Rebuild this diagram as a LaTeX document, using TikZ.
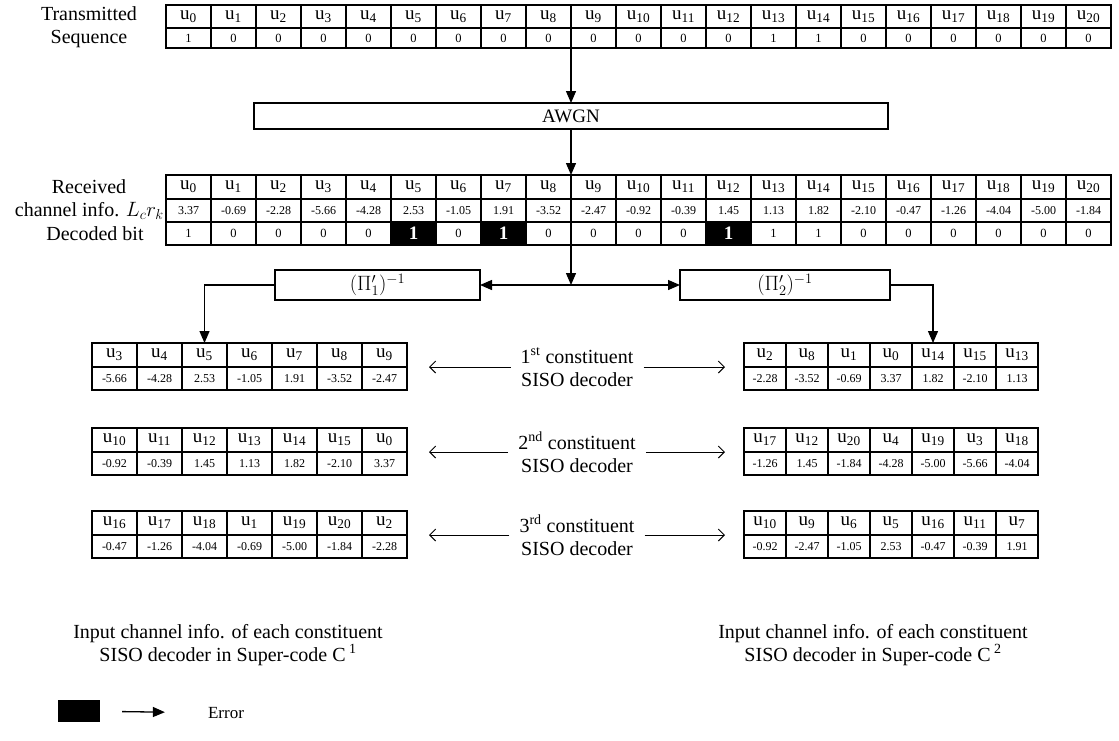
\documentclass[tikz,border=0pt]{standalone}
\usepackage{fontspec}
\setmainfont{Liberation Serif}
\usetikzlibrary{
    positioning,
    arrows.meta,
    calc
}

% one de-interleaved block: name, left x, top y, cell width, index/value list
\newcommand{\infotable}[5]{%
  \foreach \k/\v [count=\i from 0] in {#5}{
    \node[ucell, minimum width=#4] (#1-u-\i) at ({#2+#4*\i}, #3) {u\textsubscript{\k}};
    \node[vcell, minimum width=#4] (#1-v-\i) at (#1-u-\i.south west) {\v};
  }}

\begin{document}
\begin{tikzpicture}[
    x=1pt, y=-1pt,
    every node/.style={font=\fontsize{20}{23}\selectfont},
    ucell/.style={
        draw,
        line width=1.2pt,
        inner sep=0pt,
        outer sep=0pt,
        anchor=north west,
        minimum height=24,
        font=\fontsize{19}{20}\selectfont
    },
    vcell/.style={ucell, minimum height=23, font=\fontsize{12}{13}\selectfont},
    bitcell/.style={vcell, font=\fontsize{12.5}{13}\selectfont},
    errcell/.style={vcell, fill=black, text=white, font=\fontsize{19}{19}\selectfont\bfseries},
    block/.style={draw, line width=1.2pt, inner sep=0pt, outer sep=0pt},
    lbl/.style={align=center, inner sep=2pt},
    arrow/.style={line width=1.3pt, -{Triangle[length=12pt, width=10pt]}},
    sarrow/.style={line width=1pt, -{Straight Barb[length=6pt, width=12pt]}}
]

\useasboundingbox (0,0) rectangle (1119,740);

% ---------- Transmitted sequence ----------
\foreach \b [count=\i from 0] in {1,0,0,0,0,0,0,0,0,0,0,0,0,1,1,0,0,0,0,0,0}{
  \node[ucell, minimum width=45, minimum height=23] (tx-u-\i) at ({166+45*\i}, 5) {u\textsubscript{\i}};
  \node[bitcell, minimum width=45, minimum height=20] (tx-b-\i) at (tx-u-\i.south west) {\b};
}
\node[lbl] (txlabel) at (89, 27) {Transmitted\\Sequence};

% ---------- Channel ----------
\node[block, minimum width=634, minimum height=26, font=\fontsize{19}{20}\selectfont] (awgn) at (571, 116) {AWGN};
\draw[arrow] (tx-b-8.south east) -- (tx-b-8.south east |- awgn.north);

% ---------- Received channel info and decoded bits ----------
\foreach \l/\s/\d [count=\i from 0] in {3.37/bitcell/1, -0.69/bitcell/0, -2.28/bitcell/0,
    -5.66/bitcell/0, -4.28/bitcell/0, 2.53/errcell/1, -1.05/bitcell/0, 1.91/errcell/1,
    -3.52/bitcell/0, -2.47/bitcell/0, -0.92/bitcell/0, -0.39/bitcell/0, 1.45/errcell/1,
    1.13/bitcell/1, 1.82/bitcell/1, -2.10/bitcell/0, -0.47/bitcell/0, -1.26/bitcell/0,
    -4.04/bitcell/0, -5.00/bitcell/0, -1.84/bitcell/0}{
  \node[ucell, minimum width=45] (rx-u-\i) at ({166+45*\i}, 175) {u\textsubscript{\i}};
  \node[vcell, minimum width=45] (rx-l-\i) at (rx-u-\i.south west) {\l};
  \node[\s, minimum width=45] (rx-d-\i) at (rx-l-\i.south west) {\d};
}
\node[lbl] (rxlabel) at (89, 187) {Received};
\node[lbl, anchor=east] (chlabel) at (rx-l-0.west) {channel info. $L_c r_k$};
\node[lbl] (declabel) at (95, 233.5) {Decoded bit};

\draw[arrow] (awgn.south) -- (rx-u-8.north east);

% ---------- De-interleavers ----------
\node[block, minimum width=205, minimum height=30] (pi1) at (377.5, 285) {$(\Pi_1')^{-1}$};
\node[block, minimum width=210, minimum height=30] (pi2) at (785, 285) {$(\Pi_2')^{-1}$};

\coordinate (split) at (rx-d-8.south east |- pi1.east);
\draw[arrow] (rx-d-8.south east) -- (split);
\draw[arrow] (split) -- (pi1.east);
\draw[arrow] (split) -- (pi2.west);

% ---------- Super-code C1 (left) ----------
\infotable{lt1}{92}{343}{45}{3/-5.66, 4/-4.28, 5/2.53, 6/-1.05, 7/1.91, 8/-3.52, 9/-2.47}
\infotable{lt2}{92}{428}{45}{10/-0.92, 11/-0.39, 12/1.45, 13/1.13, 14/1.82, 15/-2.10, 0/3.37}
\infotable{lt3}{92}{511}{45}{16/-0.47, 17/-1.26, 18/-4.04, 1/-0.69, 19/-5.00, 20/-1.84, 2/-2.28}

% ---------- Super-code C2 (right) ----------
\infotable{rt1}{744}{343}{42}{2/-2.28, 8/-3.52, 1/-0.69, 0/3.37, 14/1.82, 15/-2.10, 13/1.13}
\infotable{rt2}{744}{428}{42}{17/-1.26, 12/1.45, 20/-1.84, 4/-4.28, 19/-5.00, 3/-5.66, 18/-4.04}
\infotable{rt3}{744}{511}{42}{10/-0.92, 9/-2.47, 6/-1.05, 5/2.53, 16/-0.47, 11/-0.39, 7/1.91}

\draw[arrow] (pi1.west) -| (lt1-u-2.north);
\draw[arrow] (pi2.east) -| (rt1-u-4.north);

% ---------- Constituent decoders ----------
\node[lbl] (dec1) at (577, 367) {1\textsuperscript{st} constituent\\SISO decoder};
\node[lbl] (dec2) at (577, 452) {2\textsuperscript{nd} constituent\\SISO decoder};
\node[lbl] (dec3) at (577, 535) {3\textsuperscript{rd} constituent\\SISO decoder};

\draw[sarrow, shorten <=8pt, shorten >=22pt] (dec1) -- (lt1-v-6.north east);
\draw[sarrow, shorten <=8pt, shorten >=19pt] (dec1) -- (rt1-v-0.north west);
\draw[sarrow, shorten <=8pt, shorten >=22pt] (dec2) -- (lt2-v-6.north east);
\draw[sarrow, shorten <=8pt, shorten >=19pt] (dec2) -- (rt2-v-0.north west);
\draw[sarrow, shorten <=8pt, shorten >=22pt] (dec3) -- (lt3-v-6.north east);
\draw[sarrow, shorten <=8pt, shorten >=19pt] (dec3) -- (rt3-v-0.north west);

% ---------- Captions ----------
\node[lbl] (sc1) at (228, 645) {Input channel info. of each constituent\\SISO decoder in Super-code C\,\textsuperscript{1}};
\node[lbl] (sc2) at (873, 645) {Input channel info. of each constituent\\SISO decoder in Super-code C\,\textsuperscript{2}};

% ---------- Legend ----------
\node[fill=black, minimum width=42, minimum height=22, inner sep=0pt] (errkey) at (79, 711) {};
\node[lbl, font=\fontsize{17}{18}\selectfont] (errtext) at (226, 713) {Error};
\draw[arrow, shorten <=22pt, shorten >=41pt] (errkey) -- (errtext);

\end{tikzpicture}
\end{document}
